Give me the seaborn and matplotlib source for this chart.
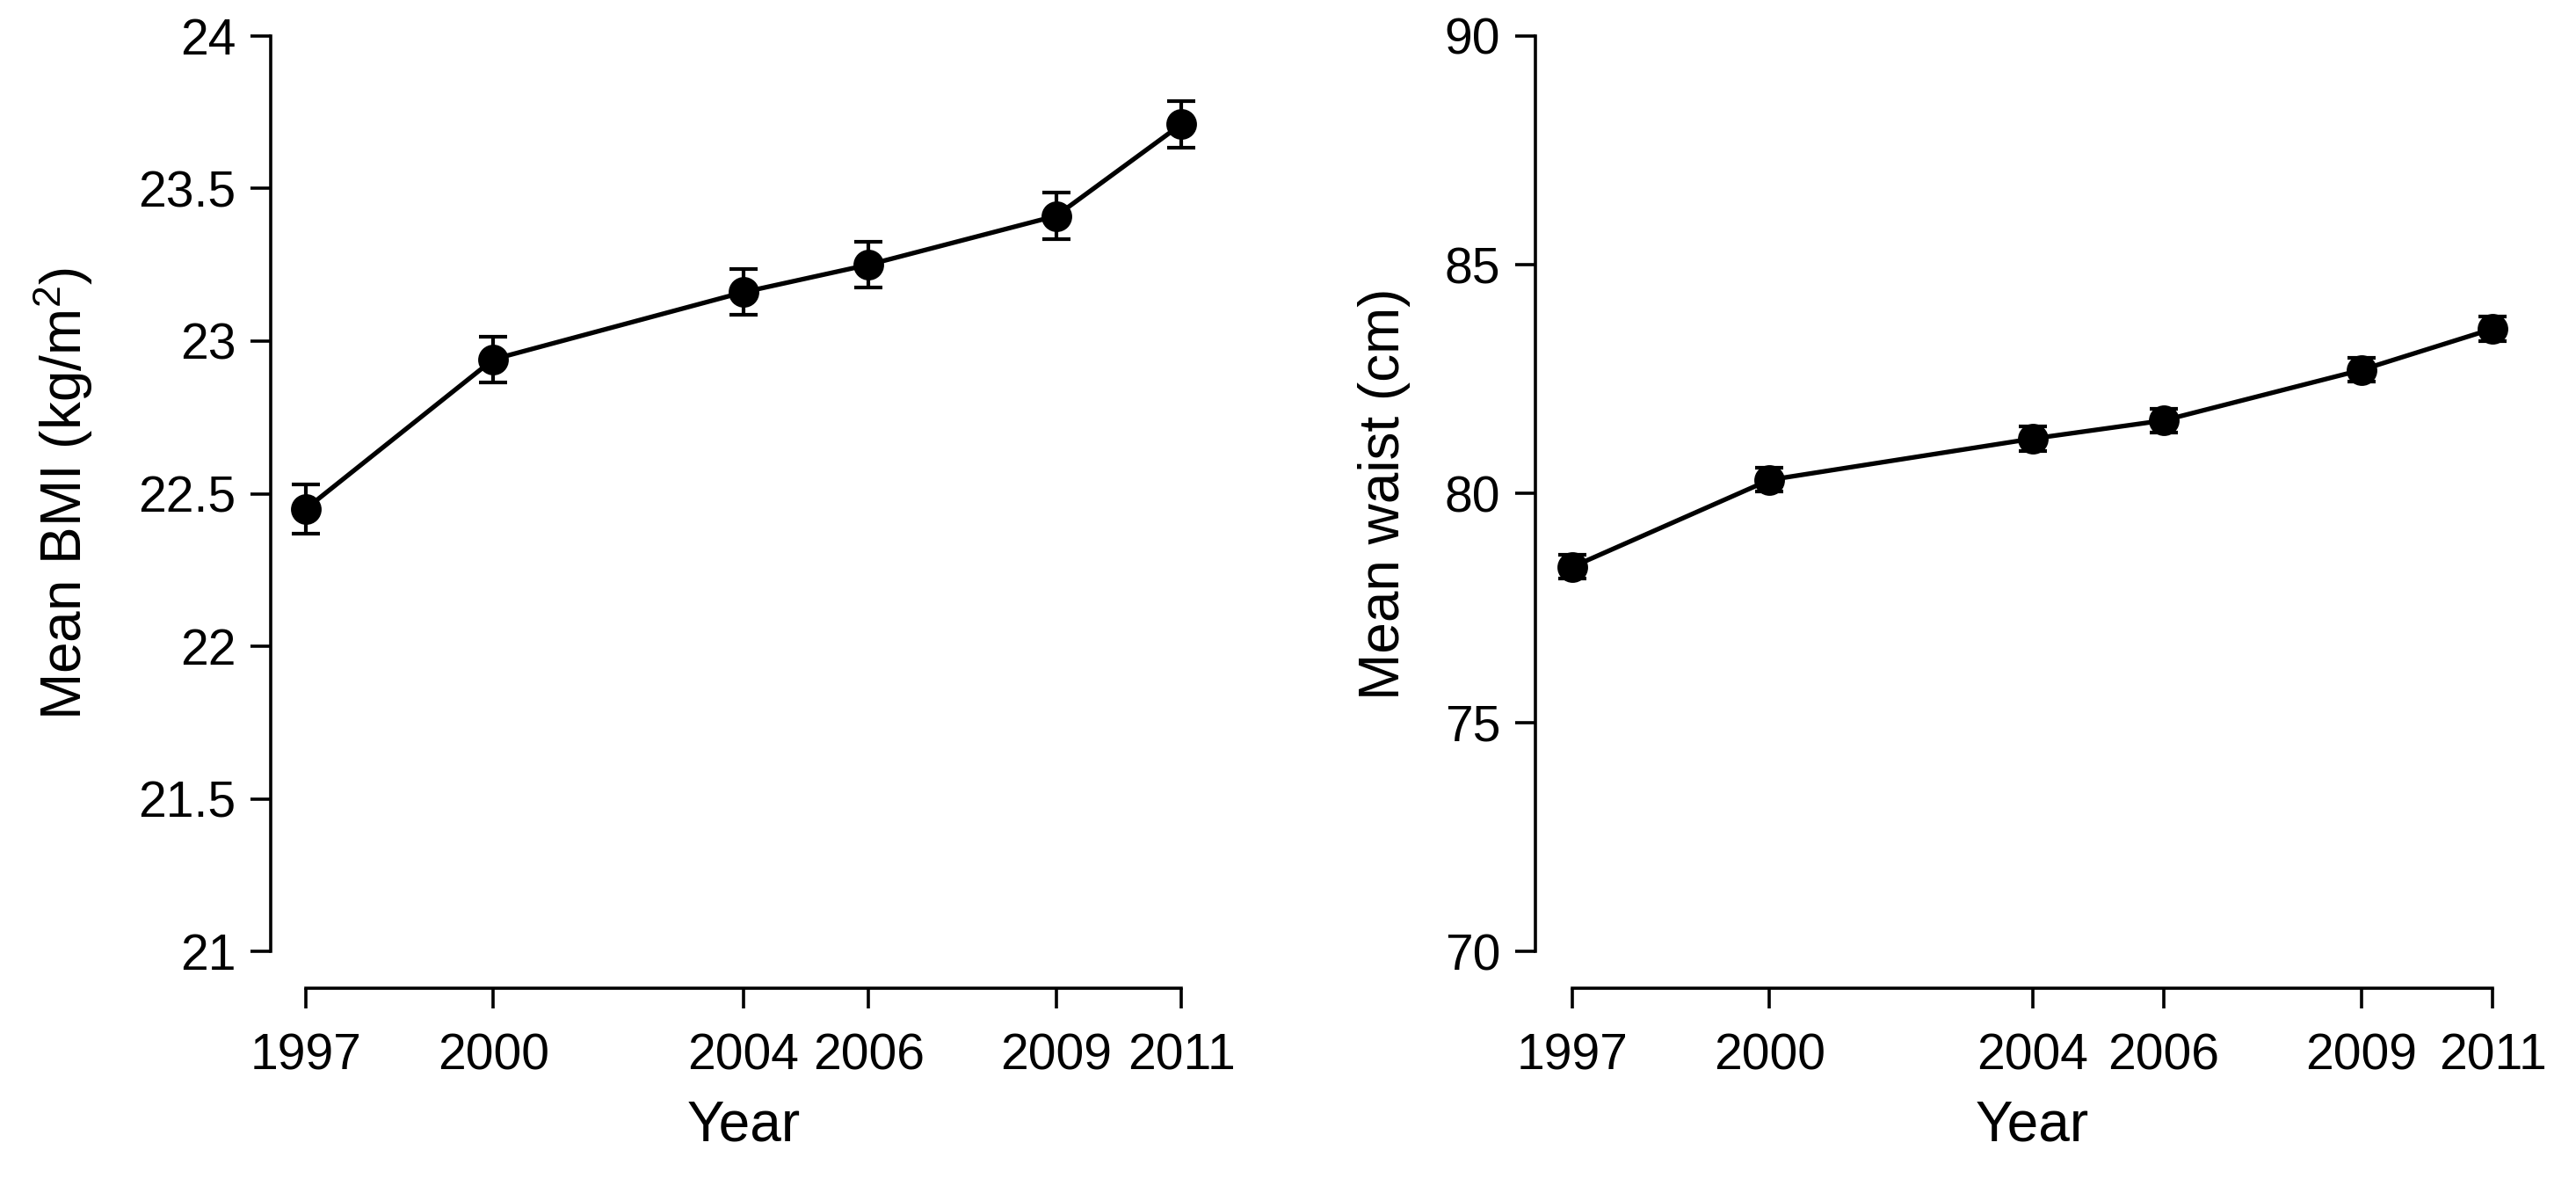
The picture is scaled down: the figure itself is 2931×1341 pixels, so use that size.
import matplotlib
matplotlib.use("Agg")
import matplotlib.pyplot as plt
import pandas as pd
import seaborn as sns

# Survey years and means (with error half-widths)
years = [1997, 2000, 2004, 2006, 2009, 2011]
bmi_mean = [22.45, 22.94, 23.16, 23.25, 23.41, 23.71]
bmi_err = [0.08, 0.075, 0.075, 0.075, 0.075, 0.077]
waist_mean = [78.4, 80.3, 81.2, 81.6, 82.7, 83.6]
waist_err = [0.26, 0.26, 0.26, 0.26, 0.26, 0.26]

bmi_ticks = [21, 21.5, 22, 22.5, 23, 23.5, 24]
bmi_ticklabels = ["21", "21.5", "22", "22.5", "23", "23.5", "24"]
waist_ticks = [70, 75, 80, 85, 90]

df = pd.DataFrame({"year": years, "bmi": bmi_mean, "bmi_err": bmi_err,
                   "waist": waist_mean, "waist_err": waist_err})

sns.set_theme(style="ticks")
plt.rcParams["font.family"] = ["Liberation Sans", "DejaVu Sans"]
plt.rcParams["mathtext.fontset"] = "custom"
plt.rcParams["mathtext.rm"] = "Liberation Sans"
plt.rcParams["mathtext.it"] = "Liberation Sans"
plt.rcParams["text.color"] = "black"
plt.rcParams["axes.labelcolor"] = "black"
plt.rcParams["xtick.color"] = "black"
plt.rcParams["ytick.color"] = "black"

W, H = 2931, 1341
fig = plt.figure(figsize=(W / 200, H / 200), dpi=200)

# axes boxes in pixels (left, right) shared bottom/top
bottom_px, top_px = 1124, -1
ax1 = fig.add_axes([308 / W, (H - bottom_px) / H, 1076 / W, (bottom_px - top_px) / H])
ax2 = fig.add_axes([1747 / W, (H - bottom_px) / H, 1131 / W, (bottom_px - top_px) / H])

lw = 1.9
panels = [
    (ax1, "bmi", "bmi_err", (21, 24), bmi_ticks, bmi_ticklabels,
     "Mean BMI (kg/m$^{2}$)", 108),
    (ax2, "waist", "waist_err", (70, 90), waist_ticks, [str(t) for t in waist_ticks],
     "Mean waist (cm)", 1605),
]

for ax, col, ecol, (y0, y1), yt, ytl, ylab, ylab_px in panels:
    sns.lineplot(data=df, x="year", y=col, ax=ax, color="black", linewidth=lw,
                 marker="o", markersize=11.8, markeredgecolor="black", zorder=3)
    ax.errorbar(df["year"], df[col], yerr=df[ecol], fmt="none", ecolor="black",
                elinewidth=1.5, capsize=5.8, capthick=1.5, zorder=4)

    padx = (years[-1] - years[0]) * 0.04
    pady = (y1 - y0) * 0.04
    ax.set_xlim(years[0] - padx, years[-1] + padx)
    ax.set_ylim(y0 - pady, y1 + pady)

    ax.set_xticks(years)
    ax.set_xticklabels([str(y) for y in years])
    ax.set_yticks(yt)
    ax.set_yticklabels(ytl)

    for side in ["top", "right"]:
        ax.spines[side].set_visible(False)
    ax.spines["left"].set_bounds(y0, y1)
    ax.spines["bottom"].set_bounds(years[0], years[-1])
    for side in ["left", "bottom"]:
        ax.spines[side].set_linewidth(1.3)
        ax.spines[side].set_color("black")

    ax.tick_params(axis="both", direction="out", length=8.3, width=1.3,
                   colors="black", labelsize=20.5)
    ax.tick_params(axis="y", pad=6)
    ax.tick_params(axis="x", pad=10)
    ax.grid(False)
    ax.set_facecolor("white")

    ax.set_xlabel("Year", fontsize=23)
    ax.set_ylabel(ylab, fontsize=23)

    bb = ax.get_position()
    ax_left_px = bb.x0 * W
    ax_w_px = bb.width * W
    ax_h_px = bb.height * H
    ax.yaxis.set_label_coords((ylab_px - ax_left_px) / ax_w_px, 0.5)
    ax.xaxis.set_label_coords(0.5, (bottom_px - 1250) / ax_h_px)

fig.savefig("out.png", dpi=200, facecolor="white")
